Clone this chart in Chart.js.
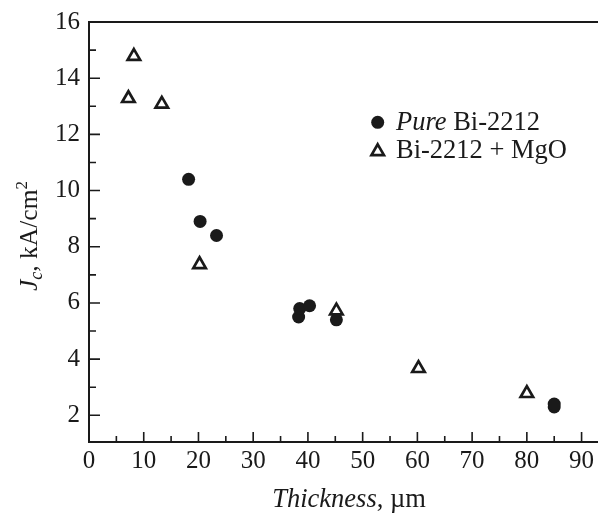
<!DOCTYPE html>
<html>
<head>
<meta charset="utf-8">
<script src="https://cdn.jsdelivr.net/npm/chart.js@4.4.1/dist/chart.umd.min.js"></script>
<style>
  html, body { margin: 0; padding: 0; background: #fff; }
</style>
</head>
<body>
<canvas id="chart" width="598" height="514"></canvas>
<script>
// ── data ──
const pureX = [18.2, 20.3, 23.3, 38.3, 38.5, 40.3, 45.2, 85, 85];
const pureY = [10.4, 8.9, 8.4, 5.5, 5.8, 5.9, 5.4, 2.3, 2.4];
const mgoX  = [7.2, 8.2, 13.3, 20.2, 45.2, 60.2, 80];
const mgoY  = [13.28, 14.78, 13.08, 7.37, 5.72, 3.67, 2.78];

const xTicks = [0, 10, 20, 30, 40, 50, 60, 70, 80, 90];
const xMinor = [5, 15, 25, 35, 45, 55, 65, 75, 85];
const yTicks = [2, 4, 6, 8, 10, 12, 14, 16];
const yMinor = [3, 5, 7, 9, 11, 13, 15];

const seriesNames = ['Pure', ' Bi-2212', 'Bi-2212 + MgO'];

const SERIF = "'Liberation Serif', 'Times New Roman', serif";
const INK = '#1a1a1a';

const toPoints = (xs, ys) => xs.map((x, i) => ({ x, y: ys[i] }));

const CIRCLE = { pointStyle: 'circle', radius: 6.5, borderWidth: 0, rotation: 0 };
const TRI = { pointStyle: 'triangle', radius: 7.2, borderWidth: 2.7, rotation: 0 };

// draw a run of [text, font, dy] pieces starting at x (baseline y)
function drawRuns(ctx, runs, x, y) {
    runs.forEach(([txt, font, dy]) => {
        ctx.font = font;
        ctx.fillText(txt, x, y + (dy || 0));
        x += ctx.measureText(txt).width;
    });
}
function runsWidth(ctx, runs) {
    return runs.reduce((w, [txt, font]) => { ctx.font = font; return w + ctx.measureText(txt).width; }, 0);
}

const decorations = {
    id: 'decorations',
    afterDraw(chart) {
        const { ctx, chartArea: a, scales: { x, y } } = chart;
        ctx.save();
        ctx.strokeStyle = INK;
        ctx.fillStyle = INK;
        ctx.lineWidth = 2;

        // top frame line
        ctx.beginPath();
        ctx.moveTo(a.left, a.top);
        ctx.lineTo(a.right, a.top);
        ctx.stroke();

        // inward ticks
        ctx.lineWidth = 1.6;
        ctx.beginPath();
        yTicks.forEach(v => { const p = y.getPixelForValue(v); ctx.moveTo(a.left, p); ctx.lineTo(a.left + 11, p); });
        yMinor.forEach(v => { const p = y.getPixelForValue(v); ctx.moveTo(a.left, p); ctx.lineTo(a.left + 7, p); });
        xTicks.forEach(v => { const p = x.getPixelForValue(v); ctx.moveTo(p, a.bottom); ctx.lineTo(p, a.bottom - 10); });
        xMinor.forEach(v => { const p = x.getPixelForValue(v); ctx.moveTo(p, a.bottom); ctx.lineTo(p, a.bottom - 6); });
        ctx.stroke();

        // x axis title
        ctx.textBaseline = 'alphabetic';
        ctx.textAlign = 'left';
        const xRuns = [['Thickness', 'italic 26.5px ' + SERIF], [', \u00b5m', '26.5px ' + SERIF]];
        const xw = runsWidth(ctx, xRuns);
        drawRuns(ctx, xRuns, 349 - xw / 2, 507);

        // y axis title (rotated)
        const yRuns = [
            ['J', 'italic 25.5px ' + SERIF],
            ['c', 'italic 18px ' + SERIF, 5],
            [', kA/cm', '25.5px ' + SERIF],
            ['2', '17px ' + SERIF, -10],
        ];
        const yw = runsWidth(ctx, yRuns);
        ctx.save();
        ctx.translate(37, 236);
        ctx.rotate(-Math.PI / 2);
        drawRuns(ctx, yRuns, -yw / 2, 0);
        ctx.restore();

        // legend
        ctx.fillStyle = INK;
        ctx.strokeStyle = INK;
        Chart.helpers.drawPoint(ctx, CIRCLE, 377.7, 122.3);
        ctx.lineWidth = TRI.borderWidth;
        ctx.fillStyle = '#fff';
        Chart.helpers.drawPoint(ctx, TRI, 377.7, 151.5);
        ctx.fillStyle = INK;
        ctx.textBaseline = 'middle';
        drawRuns(ctx, [[seriesNames[0], 'italic 26.5px ' + SERIF], [seriesNames[1], '26.5px ' + SERIF]], 396, 123);
        drawRuns(ctx, [[seriesNames[2], '26.5px ' + SERIF]], 396, 151);

        ctx.restore();
    }
};

new Chart(document.getElementById('chart'), {
    type: 'scatter',
    data: {
        datasets: [
            {
                label: 'Pure Bi-2212',
                data: toPoints(pureX, pureY),
                pointStyle: 'circle',
                pointRadius: CIRCLE.radius,
                pointHoverRadius: CIRCLE.radius,
                pointBorderWidth: 0,
                backgroundColor: INK,
                borderColor: INK,
            },
            {
                label: 'Bi-2212 + MgO',
                data: toPoints(mgoX, mgoY),
                pointStyle: 'triangle',
                pointRadius: TRI.radius,
                pointHoverRadius: TRI.radius,
                pointBorderWidth: TRI.borderWidth,
                backgroundColor: '#fff',
                borderColor: INK,
            },
        ],
    },
    options: {
        responsive: false,
        animation: false,
        layout: { autoPadding: false, padding: { top: 22, right: 0, left: 0, bottom: 0 } },
        plugins: {
            legend: { display: false },
            tooltip: { enabled: false },
        },
        scales: {
            x: {
                type: 'linear',
                min: 0,
                max: 93,
                afterBuildTicks: s => { s.ticks = xTicks.map(v => ({ value: v })); },
                afterFit: s => { s.height = 72; s.paddingLeft = 0; s.paddingRight = 0; },
                ticks: { font: { family: SERIF, size: 25 }, color: INK, padding: 4, maxRotation: 0 },
                grid: { display: false, drawTicks: false },
                border: { display: true, color: INK, width: 2 },
            },
            y: {
                type: 'linear',
                min: 1.05,
                max: 16,
                afterBuildTicks: s => { s.ticks = yTicks.map(v => ({ value: v })); },
                afterFit: s => { s.width = 89; s.paddingTop = 0; s.paddingBottom = 0; },
                ticks: { font: { family: SERIF, size: 25 }, color: INK, padding: 9 },
                grid: { display: false, drawTicks: false },
                border: { display: true, color: INK, width: 2 },
            },
        },
    },
    plugins: [decorations],
});
</script>
</body>
</html>
